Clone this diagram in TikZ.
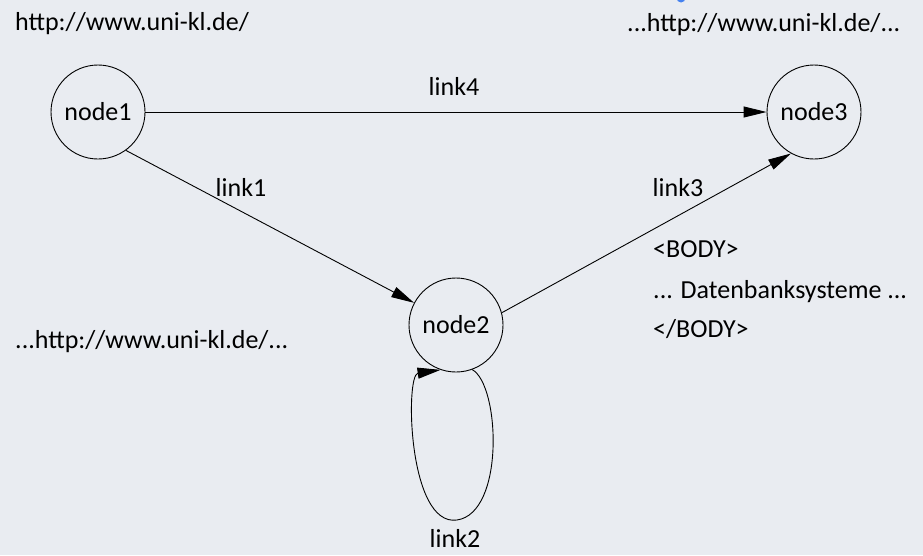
\documentclass[tikz,border=0pt]{standalone}
\usepackage{fontspec}
\setmainfont{Carlito}
\usepackage{tikz}
\usetikzlibrary{arrows.meta}
\definecolor{bgpage}{RGB}{233,236,241}
\definecolor{cutblue}{RGB}{70,130,240}

\begin{document}
\begin{tikzpicture}[x=1pt,y=-1pt,
	every node/.style={font=\fontsize{26pt}{31pt}\selectfont},
	page/.style={draw,circle,minimum size=94pt,inner sep=0pt,line width=0.9pt},
	link/.style={line width=0.9pt,-{Triangle[length=23pt,width=11pt]}},
	txt/.style={anchor=base west,inner sep=0pt},
	lab/.style={anchor=base,inner sep=0pt}]
	\fill[bgpage] (0,0) rectangle (923,555);
	\useasboundingbox (0,0) rectangle (923,555);
	\fill[cutblue] (681,-2) circle (4.5);
	
	\node[page] (node1) at (98,112) {node1};
	\node[page] (node2) at (456,325) {node2};
	\node[page] (node3) at (814,112) {node3};
	\coordinate (loopbot) at (457,520);
	
	\draw[link] (node1) -- (node3);
	\draw[link] (node1.-54) -- (node2);
	\draw[link] (node2.15) -- (node3.241);
	\draw[link] (node2.-70) .. controls (500,385) and (505,513) .. (loopbot)
		.. controls (408,527) and (405,375) .. (node2.-109);
	
	\node[lab] (l4) at (454,95) {link4};
	\node[lab] (l1) at (241,196) {link1};
	\node[lab] (l3) at (678,196) {link3};
	\node[lab] (l2) at (455,547) {link2};
	
	%urls
	\node[txt] (url1) at (15,30) {http://www.uni-kl.de/};
	\node[txt] (url3) at (627,31) {...http://www.uni-kl.de/...};
	\node[txt] (url2) at (15,348) {...http://www.uni-kl.de/...};
	
	%page body
	\node[txt] (b1) at (653,257) {<BODY>};
	\node[txt] (b2) at (653,298) {... Datenbanksysteme ...};
	\node[txt] (b3) at (653,337) {</BODY>};
\end{tikzpicture}
\end{document}
